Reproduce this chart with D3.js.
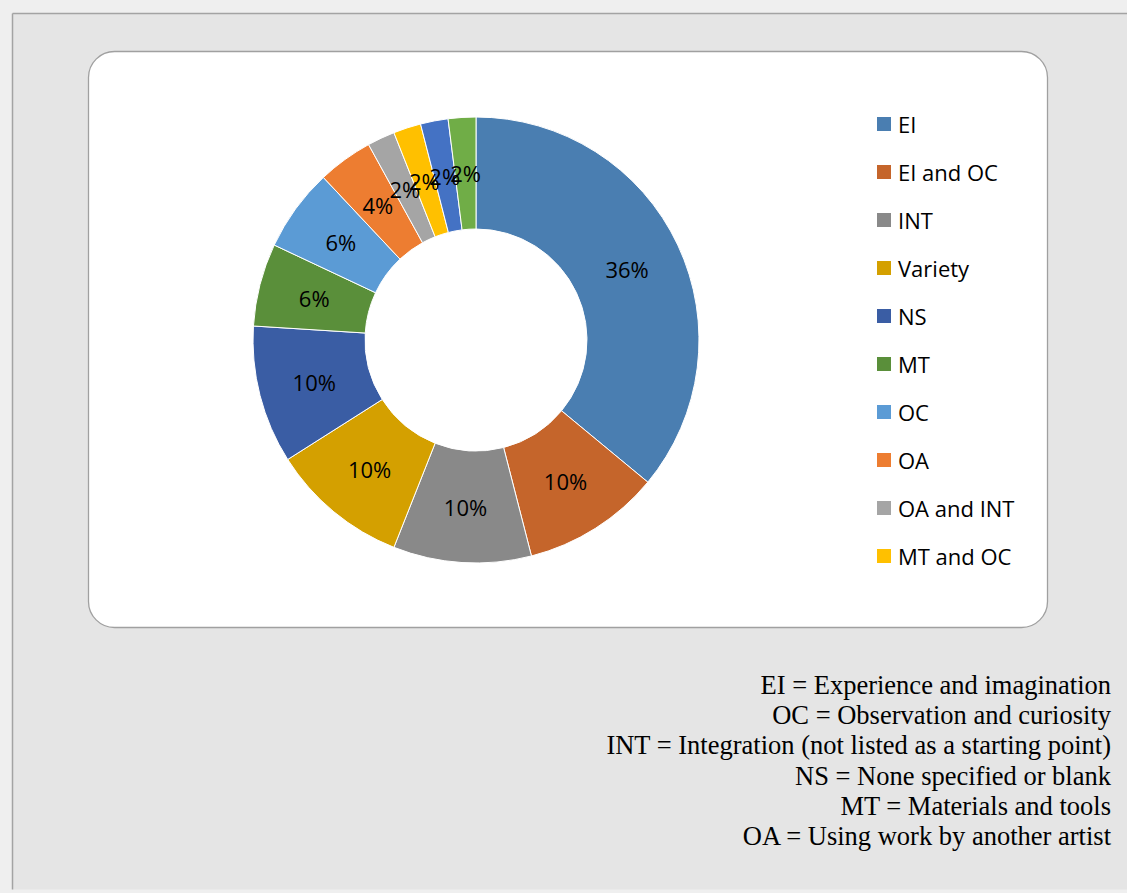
<!DOCTYPE html>
<html>
<head>
<meta charset="utf-8">
<script src="https://cdn.jsdelivr.net/npm/d3@7/dist/d3.min.js"></script>
<style>
  html, body { margin: 0; padding: 0; background: #efefef; }
  svg { display: block; }
</style>
</head>
<body>
<script>
// Starting points named in the survey responses, with their share (%)
const categories = ["EI", "EI and OC", "INT", "Variety", "NS", "MT", "OC", "OA",
                    "OA and INT", "MT and OC", "EI and OA", "EI and MT"];
const shares = [36, 10, 10, 10, 10, 6, 6, 4, 2, 2, 2, 2];
const sliceColors = ["#4a7eb1", "#c5652b", "#898989", "#d4a000", "#3a5da4", "#5a8f3a",
                     "#5b9bd5", "#ed7d31", "#a5a5a5", "#ffc000", "#4472c4", "#70ad47"];
// Only the first ten entries fit in the legend column
const legendCount = 10;
const abbreviations = [
  "EI = Experience and imagination",
  "OC = Observation and curiosity",
  "INT = Integration (not listed as a starting point)",
  "NS = None specified or blank",
  "MT = Materials and tools",
  "OA = Using work by another artist"
];

const W = 1127, H = 893;
const sansFont = "'Open Sans', 'Noto Sans', sans-serif";
const svg = d3.select("body").append("svg").attr("width", W).attr("height", H);

// Page background and outer frame
svg.append("rect").attr("width", W).attr("height", H).attr("fill", "#efefef");
svg.append("rect").attr("x", 12.5).attr("y", 13.5).attr("width", W + 20).attr("height", 876)
  .attr("fill", "#e5e5e5");
svg.append("line").attr("x1", 12.5).attr("x2", W).attr("y1", 13.5).attr("y2", 13.5)
  .attr("stroke", "#a3a3a3").attr("stroke-width", 1.5);
svg.append("line").attr("x1", 12.5).attr("x2", 12.5).attr("y1", 13.5).attr("y2", 889.5)
  .attr("stroke", "#a3a3a3").attr("stroke-width", 1.5);

// Chart area
svg.append("rect").attr("x", 88.5).attr("y", 51.5).attr("width", 959).attr("height", 576)
  .attr("rx", 26).attr("ry", 26)
  .attr("fill", "#ffffff").attr("stroke", "#a0a0a0").attr("stroke-width", 1.3);

const cx = 476, cy = 340, rOuter = 223, rInner = 111;
const color = d3.scaleOrdinal().domain(categories).range(sliceColors);
const data = categories.map((c, i) => ({ name: c, value: shares[i] }));
const pie = d3.pie().value(d => d.value).sort(null);
const arcs = pie(data);
const arc = d3.arc().innerRadius(rInner).outerRadius(rOuter);
const labelArc = d3.arc().innerRadius((rInner + rOuter) / 2).outerRadius((rInner + rOuter) / 2);

const g = svg.append("g").attr("transform", `translate(${cx},${cy})`);
g.selectAll("path.slice").data(arcs).enter().append("path")
  .attr("class", "slice")
  .attr("d", arc)
  .attr("fill", d => color(d.data.name))
  .attr("stroke", "#ffffff").attr("stroke-width", 1);

g.selectAll("text.pct").data(arcs).enter().append("text")
  .attr("class", "pct")
  .attr("transform", d => `translate(${labelArc.centroid(d)})`)
  .attr("text-anchor", "middle").attr("dominant-baseline", "central")
  .attr("font-family", sansFont).attr("font-size", 22)
  .attr("fill", "#000")
  .text(d => d.data.value + "%");

// Legend
const legendY = d3.scalePoint().domain(categories.slice(0, legendCount)).range([124, 556]);
const lg = svg.append("g");
const items = lg.selectAll("g").data(categories.slice(0, legendCount)).enter().append("g")
  .attr("transform", d => `translate(877,${legendY(d)})`);
items.append("rect").attr("x", 0).attr("y", -7).attr("width", 14).attr("height", 14)
  .attr("fill", d => color(d));
items.append("text").attr("x", 21).attr("y", 0).attr("dominant-baseline", "central")
  .attr("font-family", sansFont).attr("font-size", 22)
  .attr("fill", "#000").text(d => d);

// Abbreviation key
svg.append("g").selectAll("text").data(abbreviations).enter().append("text")
  .attr("x", 1111).attr("y", (d, i) => 694 + i * 30.2)
  .attr("text-anchor", "end")
  .attr("font-family", "'Liberation Serif', 'Times New Roman', serif").attr("font-size", 26.5)
  .attr("fill", "#000").text(d => d);
</script>
</body>
</html>
